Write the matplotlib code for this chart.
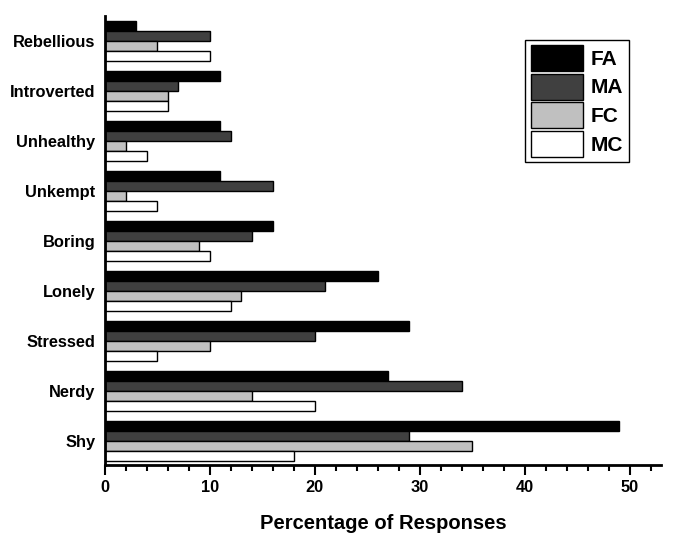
import numpy as np
import matplotlib.pyplot as plt
from matplotlib.ticker import MultipleLocator

plt.rcParams['font.family'] = ['Liberation Sans', 'DejaVu Sans']
plt.rcParams['font.weight'] = 'bold'

traits = ["Shy", "Nerdy", "Stressed", "Lonely", "Boring",
          "Unkempt", "Unhealthy", "Introverted", "Rebellious"]
fa = [49, 27, 29, 26, 16, 11, 11, 11, 3]
ma = [29, 34, 20, 21, 14, 16, 12, 7, 10]
fc = [35, 14, 10, 13, 9, 2, 2, 6, 5]
mc = [18, 20, 5, 12, 10, 5, 4, 6, 10]

series = [("FA", fa, "#000000"), ("MA", ma, "#404040"),
          ("FC", fc, "#c0c0c0"), ("MC", mc, "#ffffff")]

fig = plt.figure(figsize=(6.85, 5.44), dpi=100)
ax = fig.add_axes([105/685, 1 - 465/544, (661-105)/685, (465-16)/544])

y = np.arange(len(traits))
h = 0.2
for i, (name, vals, col) in enumerate(series):
    ax.barh(y + 0.3 - i*h, vals, height=h, color=col, edgecolor="black",
            linewidth=1, label=name)

ax.set_yticks(y)
ax.set_yticklabels(traits, fontsize=11.8, fontweight="bold")
ax.set_ylim(-0.48, 8.5)
ax.set_xlim(0, 53)
ax.xaxis.set_major_locator(MultipleLocator(10))
ax.xaxis.set_minor_locator(MultipleLocator(2))
ax.tick_params(axis="y", length=0, pad=7)
ax.tick_params(axis="x", which="major", length=7, width=1.5, labelsize=11.8, direction="out")
ax.tick_params(axis="x", which="minor", length=4, width=1.5, direction="out")
for lab in ax.get_xticklabels():
    lab.set_fontweight("bold")
ax.spines["top"].set_visible(False)
ax.spines["right"].set_visible(False)
ax.spines["left"].set_linewidth(2)
ax.spines["bottom"].set_linewidth(2)
ax.set_xlabel("Percentage of Responses", fontsize=14.5, fontweight="bold", labelpad=14)

leg = ax.legend(loc="upper right", bbox_to_anchor=(0.942, 0.947),
                prop={"weight": "bold", "size": 15}, fancybox=False,
                edgecolor="black", handlelength=2.5, handleheight=1.55,
                labelspacing=0.12, borderpad=0.25, handletextpad=0.4,
                borderaxespad=0, framealpha=1)
leg.get_frame().set_linewidth(1)

fig.savefig("out.png", dpi=100)
